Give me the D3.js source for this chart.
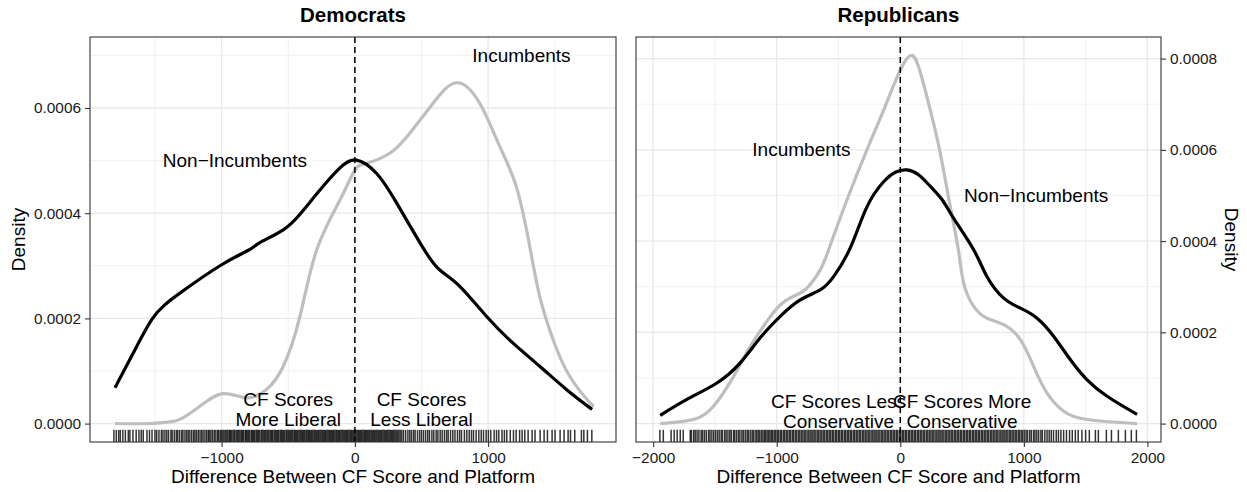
<!DOCTYPE html>
<html>
<head>
<meta charset="utf-8">
<script src="https://cdn.jsdelivr.net/npm/d3@7"></script>
<style>
  body { margin: 0; background: #fff; }
  text { font-family: "Liberation Sans", Arial, Helvetica, sans-serif; }
</style>
</head>
<body>
<div id="chart"></div>
<script>
// ---- data ----
// density curves, x = difference, y = density
let demNonX = [-1800,-1663,-1523,-1425,-1313,-1000,-795,-713,-540,-412,-262,-112,12,162,312,512,637,787,987,1187,1387,1587,1780];
let demNonY = [0.000068,0.000134,0.000198,0.000226,0.000248,0.000302,0.00033,0.000344,0.000368,0.000398,0.000444,0.000486,0.000501,0.000476,0.00042,0.000334,0.000292,0.000261,0.000204,0.000153,0.000109,0.000065,0.000027];
let demIncX = [-1800,-1538,-1400,-1313,-1163,-990,-812,-662,-537,-412,-287,-112,0,87,262,412,587,762,937,1087,1212,1312,1387,1487,1612,1762,1780];
let demIncY = [0,0,0.000003,0.000008,0.000033,0.000057,0.000049,0.000065,0.000109,0.000204,0.00033,0.000425,0.000482,0.000495,0.000514,0.000552,0.000609,0.000648,0.000609,0.000527,0.00045,0.000337,0.000242,0.00016,0.00009,0.00004,0.000037];

let repNonX = [-1943,-1727,-1484,-1296,-1134,-972,-810,-648,-540,-405,-270,-135,-40,54,150,243,340,432,594,702,837,972,1107,1242,1377,1512,1674,1917];
let repNonY = [0.000018,0.000053,0.000089,0.000133,0.000188,0.000235,0.000271,0.000293,0.000322,0.000385,0.000475,0.00053,0.000551,0.000556,0.000545,0.00052,0.00049,0.00045,0.000381,0.000322,0.000275,0.000253,0.000231,0.000191,0.00014,0.000096,0.00006,0.00002];
let repIncX = [-1943,-1673,-1512,-1350,-1215,-1080,-972,-864,-756,-648,-580,-432,-270,-135,0,95,162,243,324,405,470,513,594,702,837,972,1080,1188,1323,1512,1917];
let repIncY = [0,0.000009,0.000038,0.000103,0.000169,0.000224,0.00026,0.000279,0.000297,0.000337,0.000381,0.00049,0.0006,0.000687,0.000775,0.000807,0.00077,0.000687,0.000592,0.000475,0.000381,0.000308,0.000257,0.000231,0.000217,0.000184,0.000125,0.000067,0.000027,0.000009,0];

// rug values
let demRug = [-1808,-1790,-1772,-1760,-1741,-1722,-1700,-1688,-1665,-1641,-1620,-1603,-1588,-1560,-1541,-1522,-1500,-1487,-1470,
  -1452,-1440,-1425,-1411,-1398,-1380,-1371,-1355,-1340,-1329,-1315,-1300,-1290,-1275,-1262,-1250,-1238,-1224,-1210,-1200,-1188,-1175,-1162,-1150,-1139,-1125,-1112,-1100,-1091,-1080,-1068,-1055,-1043,-1030,-1022,-1010,-1000,-990,-981,-970,-960,-952,-941,
  -935,-926,-915,-906,-899,-887,-878,-870,-861,-850,-843,-834,-822,-815,-806,-797,-788,-776,-769,-760,-752,-741,-733,-725,-716,-704,-697,-688,-679,-670,-660,-652,-644,-633,-625,-617,-606,-598,-589,-580,-572,-561,-553,-545,-536,-527,-516,-509,-500,-491,-482,-473,-465,-455,-447,-438,-430,-420,-411,-403,-394,-386,-377,-367,-359,-350,-342,-333,-324,-315,-306,-298,-289,-280,-271,-262,-254,-245,-236,-227,-219,-210,-201,-192,-184,-175,-166,-158,-149,-140,-131,-122,-114,-105,-96,-88,-79,-70,-61,-53,-44,-35,-27,-18,-9,0,8,17,26,35,43,52,61,70,78,87,96,105,113,122,131,140,149,158,166,175,184,193,202,211,220,229,238,247,256,265,274,283,292,301,310,320,330,340,
  352,365,381,398,412,425,440,452,470,486,500,515,531,547,560,578,592,610,623,640,655,672,688,700,718,735,751,770,786,800,822,840,858,875,890,910,930,948,965,985,1002,1020,1045,1063,1080,1104,1122,1140,1166,1190,1210,1236,1255,1275,
  1300,1330,1352,1390,1420,1445,1480,1502,1540,1570,1600,1618,1650,1700,1718,1745,1778];
let repRug = [-1946,-1918,-1855,-1830,-1806,-1781,-1757,
  -1700,-1690,-1672,-1660,-1645,-1630,-1612,-1600,-1585,-1570,-1552,-1540,-1525,-1510,-1495,-1480,-1466,-1450,-1440,-1422,-1410,-1395,-1380,-1368,-1350,-1340,-1325,-1310,-1298,-1282,-1270,-1255,-1240,-1230,-1215,-1200,-1190,-1175,-1162,-1150,-1138,-1125,-1112,-1100,-1090,-1078,-1066,-1055,
  -1043,-1033,-1020,-1008,-995,-984,-970,-960,-945,-935,-921,-910,-896,-886,-871,-862,-847,-837,-822,-812,-798,-787,-773,-763,-748,-738,-724,-713,-699,-689,-674,-664,-650,-639,-625,-615,-600,-590,-576,-565,-551,-541,-526,-516,-502,-491,-477,-467,-452,-442,-428,-417,-403,-393,-378,-368,-354,-343,-329,-319,-304,-294,-280,-269,-255,-245,-230,-220,-206,-195,-181,-171,-156,-146,-132,-121,-107,-97,-82,-72,-58,-47,-33,-23,-8,2,16,27,41,51,66,76,90,101,115,125,140,150,164,175,189,199,214,224,238,249,263,273,288,298,312,323,337,347,362,372,386,397,411,421,436,446,460,471,485,495,510,520,534,545,559,569,584,594,608,619,633,643,658,668,682,693,707,717,732,742,756,767,781,791,806,816,830,841,855,865,880,890,904,915,929,939,954,964,978,989,
  1003,1018,1030,1047,1060,1078,1090,1105,1120,1138,1150,1170,1188,1205,1222,1240,1262,1280,1300,1322,1345,1370,1392,1417,
  1440,1470,1500,1530,1579,1603,1668,1709,1765,1822,1870,1911];

// annotations
let demLabels = [["Incumbents"], ["Non\u2212Incumbents"], ["CF Scores", "More Liberal"], ["CF Scores", "Less Liberal"]];
let demLabelX = [1250, -900, -500, 500];
let demLabelY = [0.0007, 0.0005, 0.00003, 0.00003];
let repLabels = [["Incumbents"], ["Non\u2212Incumbents"], ["CF Scores Less", "Conservative"], ["CF Scores More", "Conservative"]];
let repLabelX = [-800, 1100, -500, 500];
let repLabelY = [0.0006, 0.0005, 0.00003, 0.00003];

let demXTicks = [-1000, 0, 1000];
let repXTicks = [-2000, -1000, 0, 1000, 2000];
let demYTicks = [0, 0.0002, 0.0004, 0.0006];
let repYTicks = [0, 0.0002, 0.0004, 0.0006, 0.0008];

// ---- drawing ----
let width = 1247, height = 492;
let svg = d3.select("#chart").append("svg")
  .attr("width", width)
  .attr("height", height);
svg.append("rect").attr("width", width).attr("height", height).attr("fill", "#fff");

let panelTop = 37, panelBottom = 442;

function expand(ext) {
  let d = (ext[1] - ext[0]) * 0.05;
  return [ext[0] - d, ext[1] + d];
}

function panel(opt) {
  let g = svg.append("g");
  let xs = d3.scaleLinear()
    .domain(expand(d3.extent(opt.curves.flatMap(c => c.x).concat(opt.rug))))
    .range([opt.left, opt.right]);
  let ymax = d3.max(opt.curves.flatMap(c => c.y).concat(opt.labelY));
  let ys = d3.scaleLinear().domain(expand([0, ymax])).range([panelBottom, panelTop]);

  // minor grid
  let xMinor = opt.xTicks.slice(0, -1).map((t, i) => (t + opt.xTicks[i + 1]) / 2);
  xMinor = [opt.xTicks[0] - 500].concat(xMinor, [opt.xTicks[opt.xTicks.length - 1] + 500])
    .filter(v => v > xs.domain()[0] && v < xs.domain()[1]);
  let yMinor = opt.yTicks.map(t => t + 0.0001).filter(v => v < ys.domain()[1]);

  g.selectAll(".xminor").data(xMinor).enter().append("line")
    .attr("x1", d => xs(d)).attr("x2", d => xs(d))
    .attr("y1", panelTop).attr("y2", panelBottom)
    .attr("stroke", "#ebebeb").attr("stroke-width", 0.7);
  g.selectAll(".yminor").data(yMinor).enter().append("line")
    .attr("x1", opt.left).attr("x2", opt.right)
    .attr("y1", d => ys(d)).attr("y2", d => ys(d))
    .attr("stroke", "#ebebeb").attr("stroke-width", 0.7);
  g.selectAll(".xmajor").data(opt.xTicks).enter().append("line")
    .attr("x1", d => xs(d)).attr("x2", d => xs(d))
    .attr("y1", panelTop).attr("y2", panelBottom)
    .attr("stroke", "#e8e8e8").attr("stroke-width", 1.3);
  g.selectAll(".ymajor").data(opt.yTicks).enter().append("line")
    .attr("x1", opt.left).attr("x2", opt.right)
    .attr("y1", d => ys(d)).attr("y2", d => ys(d))
    .attr("stroke", "#e8e8e8").attr("stroke-width", 1.3);

  // rug
  g.selectAll(".rug").data(opt.rug).enter().append("line")
    .attr("x1", d => xs(d)).attr("x2", d => xs(d))
    .attr("y1", panelBottom - (panelBottom - panelTop) * 0.03).attr("y2", panelBottom)
    .attr("stroke", "#000").attr("stroke-opacity", 0.8).attr("stroke-width", 1.5);

  // curves
  let line = d3.line()
    .x(d => xs(d[0]))
    .y(d => ys(d[1]))
    .curve(d3.curveNatural);
  opt.curves.forEach(c => {
    g.append("path")
      .datum(c.x.map((v, i) => [v, c.y[i]]))
      .attr("d", line)
      .attr("fill", "none")
      .attr("stroke", c.color)
      .attr("stroke-width", 3.2)
      .attr("stroke-linejoin", "round");
  });

  // vline at zero
  g.append("line")
    .attr("x1", xs(0)).attr("x2", xs(0))
    .attr("y1", panelTop).attr("y2", panelBottom)
    .attr("stroke", "#000").attr("stroke-width", 1.5)
    .attr("stroke-dasharray", "6 4");

  // annotations
  opt.labels.forEach((lab, i) => {
    let t = g.append("text")
      .attr("x", xs(opt.labelX[i]))
      .attr("y", ys(opt.labelY[i]))
      .attr("text-anchor", "middle")
      .attr("font-size", "19px")
      .attr("fill", "#000");
    if (lab.length == 1) {
      t.attr("dy", "0.35em").text(lab[0]);
    } else {
      t.append("tspan").attr("x", xs(opt.labelX[i])).attr("dy", -2).text(lab[0]);
      t.append("tspan").attr("x", xs(opt.labelX[i])).attr("dy", 20.5).text(lab[1]);
    }
  });

  // border
  g.append("rect")
    .attr("x", opt.left).attr("y", panelTop)
    .attr("width", opt.right - opt.left).attr("height", panelBottom - panelTop)
    .attr("fill", "none").attr("stroke", "#333").attr("stroke-width", 1.1);

  // axes
  let xAxis = g.append("g")
    .attr("transform", "translate(0," + panelBottom + ")")
    .call(d3.axisBottom(xs).tickValues(opt.xTicks).tickFormat(d3.format("d")).tickSize(5).tickPadding(5));
  let yAxis = g.append("g")
    .attr("transform", "translate(" + (opt.yRight ? opt.right : opt.left) + ",0)")
    .call((opt.yRight ? d3.axisRight(ys) : d3.axisLeft(ys))
      .tickValues(opt.yTicks).tickFormat(d3.format(".4f")).tickSize(5).tickPadding(4));
  [xAxis, yAxis].forEach(a => {
    a.select(".domain").remove();
    a.selectAll(".tick line").attr("stroke", "#333").attr("stroke-width", 1.1);
    a.selectAll(".tick text").attr("font-size", "15.4px").attr("fill", "#1a1a1a")
      .attr("font-family", "'Liberation Sans', Arial, sans-serif");
  });

  let cx = (opt.left + opt.right) / 2;
  g.append("text")
    .attr("x", cx).attr("y", 22)
    .attr("text-anchor", "middle")
    .attr("font-size", "20.5px").attr("font-weight", "bold")
    .text(opt.title);
  g.append("text")
    .attr("x", cx).attr("y", 483)
    .attr("text-anchor", "middle")
    .attr("font-size", "19px")
    .text("Difference Between CF Score and Platform");

  let ty = (panelTop + panelBottom) / 2;
  let tx = opt.yRight ? 1232 : 18;
  g.append("text")
    .attr("transform", "translate(" + tx + "," + ty + ") rotate(" + (opt.yRight ? 90 : -90) + ")")
    .attr("text-anchor", "middle")
    .attr("dy", "0.35em")
    .attr("font-size", "19px")
    .text("Density");
}

panel({
  title: "Democrats", left: 90, right: 616, yRight: false,
  curves: [
    { x: demIncX, y: demIncY, color: "#bebebe" },
    { x: demNonX, y: demNonY, color: "#000" }
  ],
  rug: demRug,
  labels: demLabels, labelX: demLabelX, labelY: demLabelY,
  xTicks: demXTicks, yTicks: demYTicks
});

panel({
  title: "Republicans", left: 636, right: 1161, yRight: true,
  curves: [
    { x: repIncX, y: repIncY, color: "#bebebe" },
    { x: repNonX, y: repNonY, color: "#000" }
  ],
  rug: repRug,
  labels: repLabels, labelX: repLabelX, labelY: repLabelY,
  xTicks: repXTicks, yTicks: repYTicks
});
</script>
</body>
</html>
